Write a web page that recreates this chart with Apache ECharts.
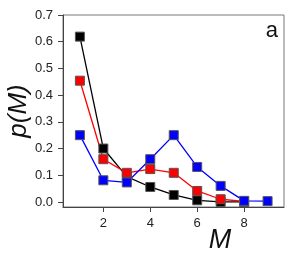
<!DOCTYPE html>
<html><head><meta charset="utf-8">
<script src="https://cdn.jsdelivr.net/npm/echarts@6/dist/echarts.min.js"></script>
<style>html,body{margin:0;padding:0;background:#fff}#c{width:299px;height:255px}</style>
</head><body><div id="c"></div>
<script>
var mValues = [1,2,3,4,5,6,7,8,9];
var blackSeries = [0.619,0.200,0.095,0.056,0.026,0.006,0.000,0.000];
var redSeries = [0.454,0.160,0.109,0.123,0.109,0.041,0.010,0.002];
var blueSeries = [0.250,0.081,0.073,0.160,0.250,0.131,0.060,0.004,0.003];
var yTicks = [0,0.1,0.2,0.3,0.4,0.5,0.6,0.7];
var xTicks = [2,4,6,8];
function pairs(v){return v.map(function(y,i){return [mValues[i],y];});}
var chart = echarts.init(document.getElementById('c'));
function ser(data,color){
  return {type:'line',data:pairs(data),symbol:'rect',symbolSize:9,
    lineStyle:{color:color,width:1.3},
    itemStyle:{color:color,borderColor:'#555',borderWidth:1},
    emphasis:{disabled:true},animation:false};
}
chart.setOption({
  animation:false,
  grid:{left:63,top:15,right:15,bottom:48,outerBoundsMode:'none',containLabel:false,show:true,borderColor:'#777',borderWidth:1},
  xAxis:{type:'value',min:0.28,max:9.7,
    axisLine:{show:true,onZero:false,lineStyle:{color:'#444',width:1}},
    axisTick:{show:true,customValues:xTicks,length:5,lineStyle:{color:'#444'}},
    axisLabel:{customValues:xTicks,fontSize:13,color:'#222',fontFamily:'Liberation Sans',margin:10},
    splitLine:{show:false},
    name:'M',nameLocation:'middle',nameGap:20,nameMoveOverlap:false,
    nameTextStyle:{fontSize:27,fontStyle:'italic',color:'#111',fontFamily:'Liberation Sans',padding:[0,0,0,93]}},
  yAxis:{type:'value',min:-0.019,max:0.7,
    axisLine:{show:true,onZero:false,lineStyle:{color:'#444',width:1}},
    axisTick:{show:true,customValues:yTicks,length:5,lineStyle:{color:'#444'}},
    axisLabel:{customValues:yTicks,fontSize:13,color:'#222',fontFamily:'Liberation Sans',margin:10,
      formatter:function(v){return v.toFixed(1);}},
    splitLine:{show:false},
    name:'p(M)',nameLocation:'middle',nameGap:31,nameMoveOverlap:false,
    nameTextStyle:{fontSize:26,fontStyle:'italic',color:'#111',fontFamily:'Liberation Sans'}},
  graphic:[{type:'text',right:21,top:20,style:{text:'a',fontSize:22,fill:'#111',fontFamily:'Liberation Sans'}}],
  series:[ser(blackSeries,'#000000'),ser(redSeries,'#ff0000'),ser(blueSeries,'#0000ff')]
});
</script></body></html>
